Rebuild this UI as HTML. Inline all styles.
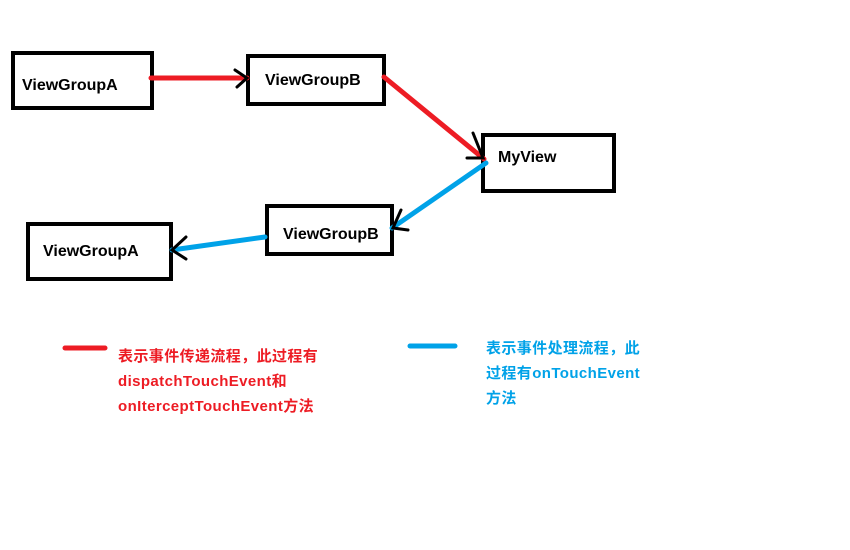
<!DOCTYPE html>
<html><head><meta charset="utf-8"><style>
body{margin:0;background:#fff;width:850px;height:545px;overflow:hidden}
svg text{font-family:"Liberation Sans","Noto Sans CJK SC",sans-serif;font-weight:bold}
</style></head><body>
<svg width="850" height="545" viewBox="0 0 850 545" xmlns="http://www.w3.org/2000/svg">
<g fill="none" stroke="#000" stroke-width="4">
<rect x="13" y="53" width="139" height="55"/>
<rect x="248" y="56" width="136" height="48"/>
<rect x="483" y="135" width="131" height="56"/>
<rect x="267" y="206" width="125" height="48"/>
<rect x="28" y="224" width="143" height="55"/>
</g>
<g stroke-linecap="round" fill="none">
<line x1="151" y1="78" x2="247" y2="78" stroke="#ed1c24" stroke-width="5"/>
<line x1="384" y1="77" x2="484" y2="159" stroke="#ed1c24" stroke-width="5"/>
<line x1="486" y1="163" x2="392" y2="228" stroke="#00a2e8" stroke-width="5"/>
<line x1="265" y1="237" x2="172" y2="250" stroke="#00a2e8" stroke-width="5"/>
<line x1="65" y1="348" x2="105" y2="348" stroke="#ed1c24" stroke-width="5"/>
<line x1="410" y1="346" x2="455" y2="346" stroke="#00a2e8" stroke-width="5"/>
</g>
<g stroke="#000" stroke-width="3" fill="none" stroke-linecap="round">
<polyline points="235,70 247,78 237,87"/>
<polyline points="473,133 483,158 467,158"/>
<polyline points="401,210 393,228 408,230"/>
<polyline points="186,237 172,250 186,259"/>
</g>
<g font-size="16" fill="#000">
<text x="22" y="90">ViewGroupA</text>
<text x="265" y="85">ViewGroupB</text>
<text x="498" y="162">MyView</text>
<text x="283" y="239">ViewGroupB</text>
<text x="43" y="256">ViewGroupA</text>
</g>
<g font-size="15" fill="#ed1c24" letter-spacing="0.4">
<text x="118" y="361">表示事件传递流程，此过程有</text>
<text x="118" y="386">dispatchTouchEvent和</text>
<text x="118" y="411">onIterceptTouchEvent方法</text>
</g>
<g font-size="15" fill="#00a2e8" letter-spacing="0.4">
<text x="486" y="353">表示事件处理流程，此</text>
<text x="486" y="378">过程有onTouchEvent</text>
<text x="486" y="403">方法</text>
</g>
</svg>
</body></html>
